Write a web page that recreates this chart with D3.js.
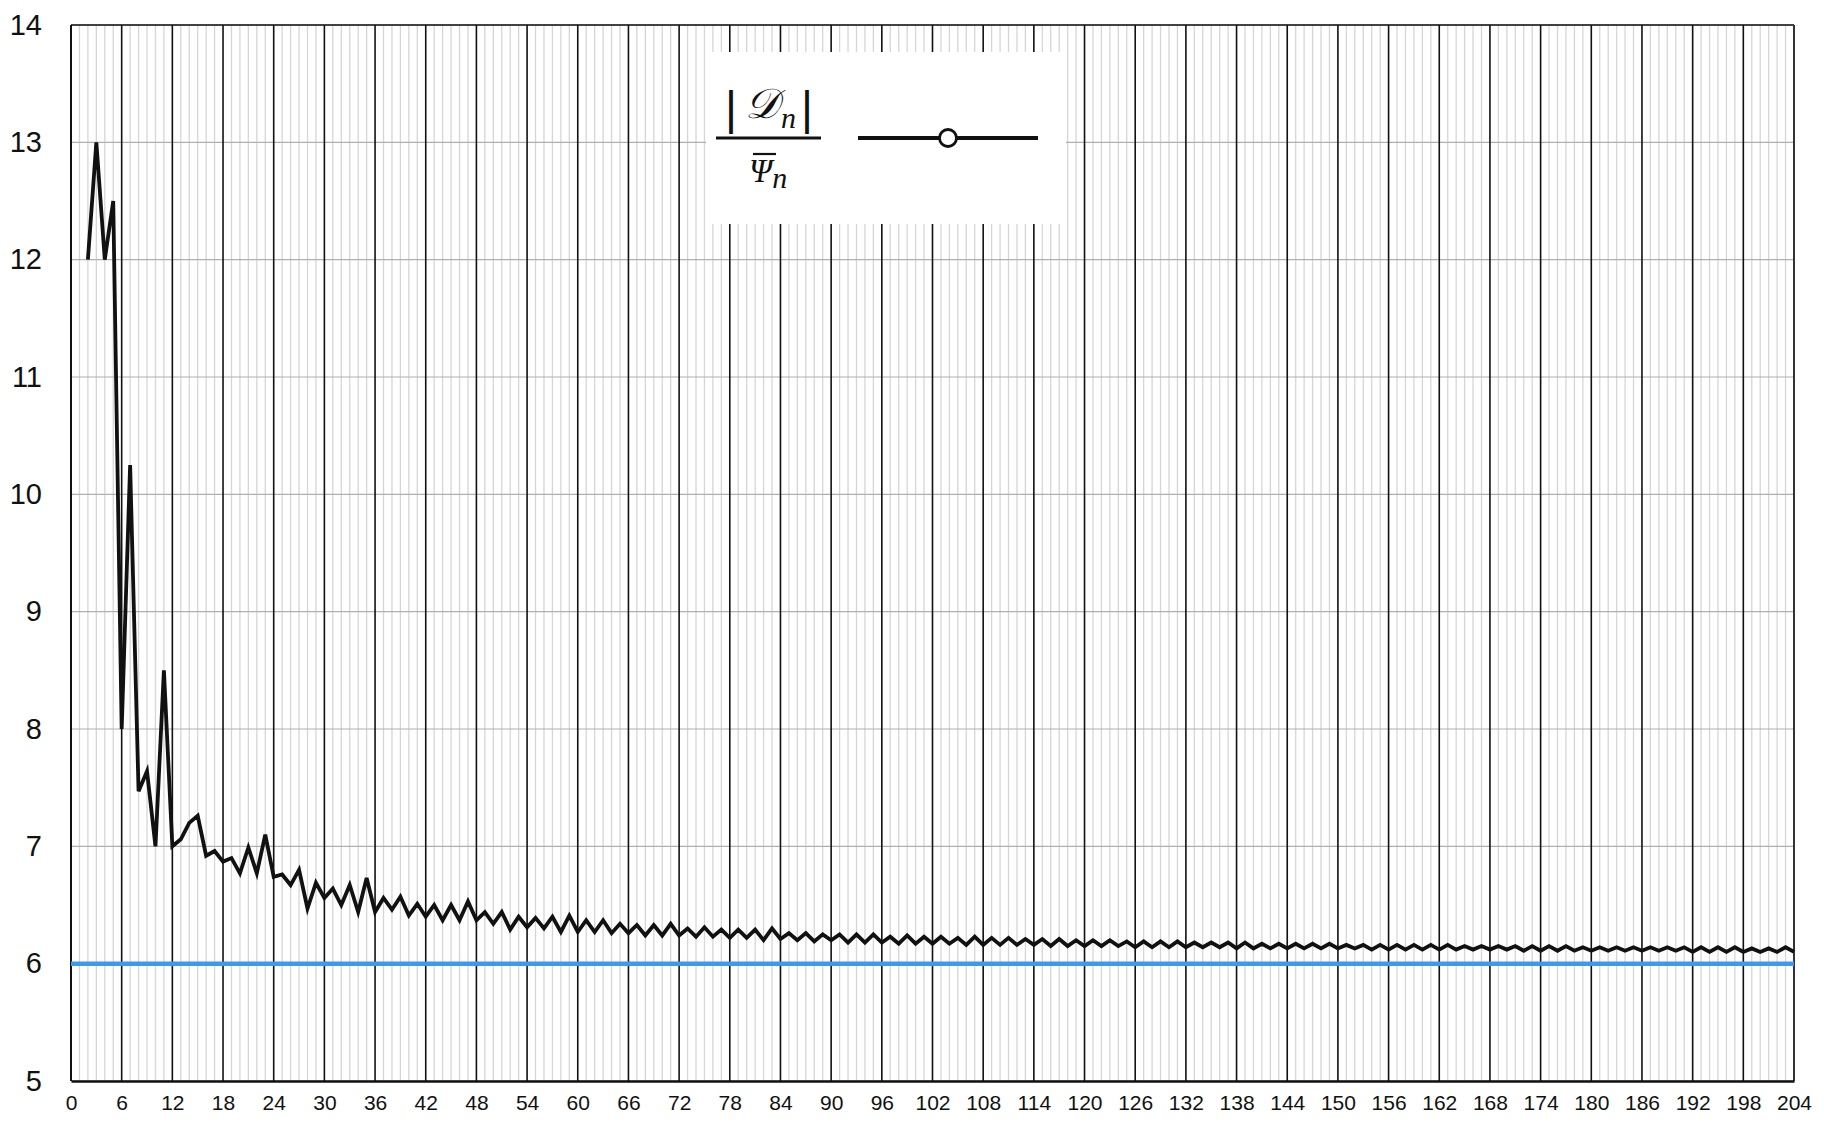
<!DOCTYPE html>
<html><head><meta charset="utf-8">
<script src="https://cdn.jsdelivr.net/npm/d3@7"></script>
<style>body{margin:0;background:#fff}</style>
</head><body>
<svg id="chart" width="1824" height="1140"></svg>
<script>
// ---- data ----
const firstN = 2;
const ratioValues = [
  12, 13, 12, 12.5, 8, 10.25, 7.47, 7.64, 7.0, 8.5,            // n=2..11
  7.0, 7.06, 7.2, 7.26, 6.92, 6.96, 6.87, 6.9, 6.77, 6.99,     // 12..21
  6.77, 7.1, 6.74, 6.76, 6.67, 6.8, 6.47, 6.69, 6.56, 6.64,    // 22..31
  6.5, 6.67, 6.44, 6.73, 6.44, 6.56, 6.46, 6.57, 6.41, 6.51,   // 32..41
  6.4, 6.5, 6.37, 6.5, 6.37, 6.53, 6.37, 6.44, 6.34, 6.44,     // 42..51
  6.29, 6.4, 6.31, 6.39, 6.3, 6.4, 6.27, 6.41, 6.27, 6.37,     // 52..61
  6.27, 6.37, 6.26, 6.34, 6.26, 6.33, 6.24, 6.33, 6.24, 6.34,  // 62..71
  6.24, 6.3, 6.23, 6.31, 6.23, 6.29, 6.22, 6.29, 6.22, 6.29,   // 72..81
  6.2, 6.3, 6.21, 6.26, 6.2, 6.26, 6.19, 6.25, 6.2, 6.25,      // 82..91
  6.18, 6.25, 6.18, 6.25, 6.18, 6.23, 6.17, 6.24, 6.17, 6.23,  // 92..101
  6.17, 6.23, 6.17, 6.22, 6.16, 6.23, 6.16, 6.22, 6.16, 6.22,  // 102..111
  6.16, 6.21, 6.16, 6.21, 6.15, 6.21, 6.15, 6.2, 6.15, 6.2,    // 112..121
  6.15, 6.2, 6.15, 6.19, 6.14, 6.19, 6.14, 6.19, 6.14, 6.19,   // 122..131
  6.14, 6.18, 6.14, 6.18, 6.14, 6.18, 6.13, 6.18, 6.13, 6.17,  // 132..141
  6.13, 6.17, 6.13, 6.17, 6.13, 6.17, 6.13, 6.17, 6.13, 6.16,  // 142..151
  6.13, 6.16, 6.12, 6.16, 6.12, 6.16, 6.12, 6.16, 6.12, 6.16,  // 152..161
  6.12, 6.16, 6.12, 6.15, 6.12, 6.15, 6.12, 6.15, 6.12, 6.15,  // 162..171
  6.11, 6.15, 6.11, 6.15, 6.11, 6.15, 6.11, 6.14, 6.11, 6.14,  // 172..181
  6.11, 6.14, 6.11, 6.14, 6.11, 6.14, 6.11, 6.14, 6.11, 6.14,  // 182..191
  6.1, 6.14, 6.1, 6.14, 6.1, 6.14, 6.1, 6.13, 6.1, 6.13,       // 192..201
  6.1, 6.14, 6.1                                               // 202..204
];
const referenceLevel = 6;
const xTickLabels = [0,6,12,18,24,30,36,42,48,54,60,66,72,78,84,90,96,102,108,114,120,126,132,138,144,150,156,162,168,174,180,186,192,198,204];
const yTickLabels = [5,6,7,8,9,10,11,12,13,14];
const xDomain = [0, 204];
const yDomain = [5, 14];

// ---- layout ----
const svg = d3.select('#chart');
const L = 71, T = 25, R = 1794, B = 1081;
const x = d3.scaleLinear().domain(xDomain).range([L, R]);
const y = d3.scaleLinear().domain(yDomain).range([B, T]);
const font = "'Liberation Sans', Arial, Helvetica, sans-serif";

svg.append('rect').attr('width',1824).attr('height',1140).attr('fill','#fff');

// minor vertical grid
const minor = d3.range(xDomain[0], xDomain[1] + 1);
svg.append('g').selectAll('line').data(minor.filter(d => d % 6 !== 0)).join('line')
  .attr('x1', d => x(d)).attr('x2', d => x(d)).attr('y1', T).attr('y2', B)
  .attr('stroke', '#d6d6d6').attr('stroke-width', 1.3);

// horizontal grid
svg.append('g').selectAll('line').data(yTickLabels).join('line')
  .attr('x1', L).attr('x2', R).attr('y1', d => y(d)).attr('y2', d => y(d))
  .attr('stroke', '#b0b0b0').attr('stroke-width', 1.2);

// major vertical grid
svg.append('g').selectAll('line').data(xTickLabels).join('line')
  .attr('x1', d => x(d)).attr('x2', d => x(d)).attr('y1', T).attr('y2', B)
  .attr('stroke', '#111').attr('stroke-width', 1.6);

// frame
svg.append('line').attr('x1', L).attr('x2', R).attr('y1', T).attr('y2', T).attr('stroke','#111').attr('stroke-width',1.6);
svg.append('line').attr('x1', R).attr('x2', R).attr('y1', T).attr('y2', B).attr('stroke','#333').attr('stroke-width',2);
svg.append('line').attr('x1', L).attr('x2', L).attr('y1', T).attr('y2', B).attr('stroke','#111').attr('stroke-width',2);

// axes
const xAxis = d3.axisBottom(x).tickValues(xTickLabels).tickSize(0).tickPadding(14).tickFormat(d3.format('d'));
const gx = svg.append('g').attr('transform', `translate(0,${B})`).call(xAxis);
gx.select('.domain').attr('stroke','#111').attr('stroke-width',2.5);
gx.selectAll('text').attr('font-family', font).attr('font-size', 21).attr('fill','#111');

const yAxis = d3.axisLeft(y).tickValues(yTickLabels).tickSize(0).tickPadding(29).tickFormat(d3.format('d'));
const gy = svg.append('g').attr('transform', `translate(${L},0)`).call(yAxis);
gy.select('.domain').remove();
gy.selectAll('text').attr('font-family', font).attr('font-size', 29).attr('fill','#111');

// reference line at 6
svg.append('line').attr('x1', x(xDomain[0])).attr('x2', x(xDomain[1]))
  .attr('y1', y(referenceLevel)).attr('y2', y(referenceLevel))
  .attr('stroke', '#3f97f0').attr('stroke-width', 4.5);

// data line
const pts = ratioValues.map((v, i) => [firstN + i, v]);
svg.append('path').datum(pts)
  .attr('d', d3.line().x(d => x(d[0])).y(d => y(d[1])))
  .attr('fill', 'none').attr('stroke', '#111').attr('stroke-width', 3.8)
  .attr('stroke-linejoin', 'miter');

// legend
const lg = svg.append('g');
lg.append('rect').attr('x', 706).attr('y', 52).attr('width', 360).attr('height', 172).attr('fill', '#fff');
const serifI = "'Liberation Serif', serif";
lg.append('text').attr('x', 731).attr('y', 124).attr('text-anchor','middle')
  .attr('font-family', font).attr('font-size', 46).attr('fill','#111').text('|');
lg.append('text').attr('x', 807).attr('y', 124).attr('text-anchor','middle')
  .attr('font-family', font).attr('font-size', 46).attr('fill','#111').text('|');
const num = lg.append('text').attr('x', 745).attr('y', 118)
  .attr('font-family', serifI).attr('font-size', 42).attr('font-style','italic').attr('fill','#111');
num.append('tspan').text('\u{1D49F}');
num.append('tspan').attr('font-size', 30).attr('dy', 10).attr('dx', 2).text('n');
lg.append('line').attr('x1', 716).attr('x2', 821).attr('y1', 138).attr('y2', 138).attr('stroke','#111').attr('stroke-width', 3);
const den = lg.append('text').attr('x', 749).attr('y', 182)
  .attr('font-family', serifI).attr('font-size', 33).attr('font-style','italic').attr('fill','#111');
den.append('tspan').text('\u03A8');
den.append('tspan').attr('font-size', 30).attr('dy', 6).text('n');
lg.append('line').attr('x1', 753).attr('x2', 776).attr('y1', 154).attr('y2', 154).attr('stroke','#111').attr('stroke-width', 2.2);
lg.append('line').attr('x1', 858).attr('x2', 1038).attr('y1', 138).attr('y2', 138).attr('stroke','#111').attr('stroke-width', 4);
lg.append('circle').attr('cx', 948).attr('cy', 138).attr('r', 8.5).attr('fill','#fff').attr('stroke','#111').attr('stroke-width', 2.8);
</script>
</body></html>
